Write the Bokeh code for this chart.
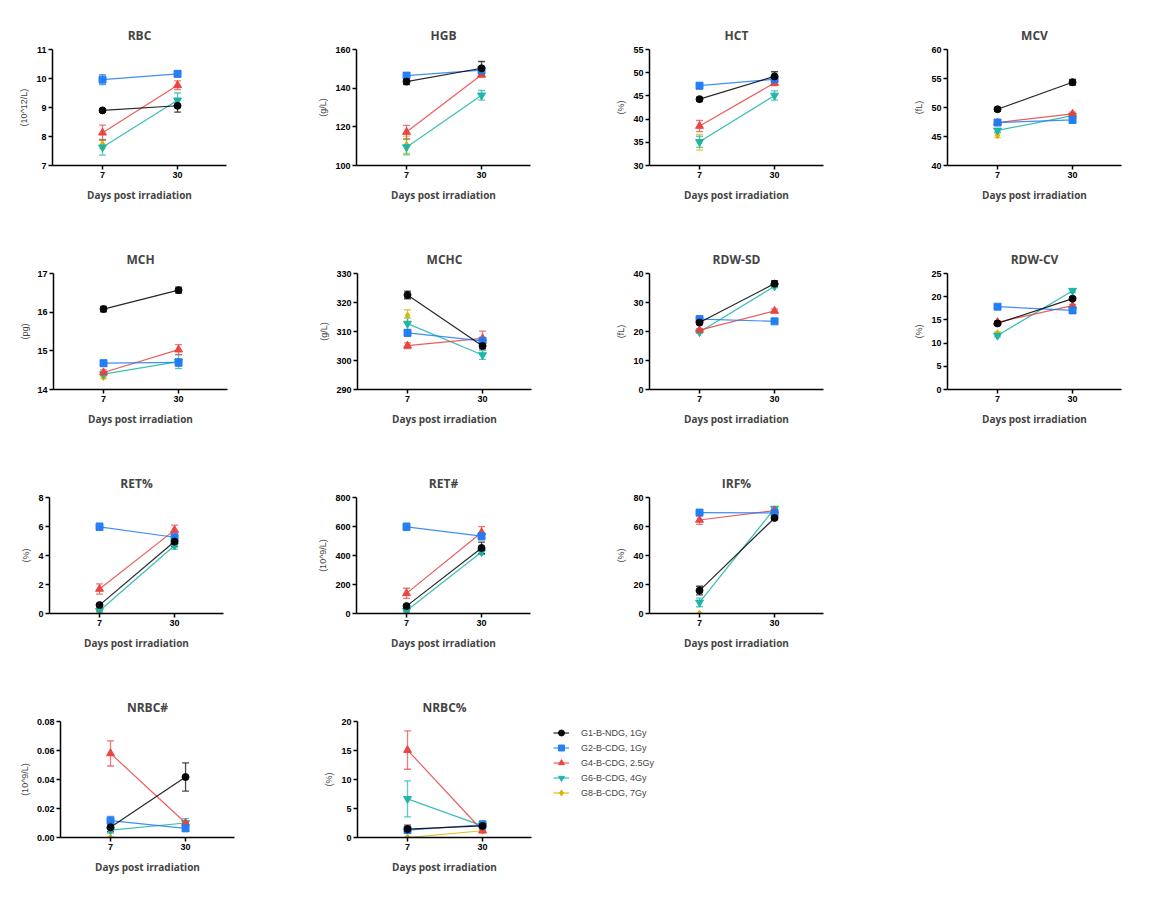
import math
from bokeh.plotting import figure
from bokeh.models import (Range1d, FixedTicker, Whisker, TeeHead, ColumnDataSource,
                          Legend, LegendItem, NumeralTickFormatter)
from bokeh.layouts import row, column
from bokeh.embed import file_html
from bokeh.resources import INLINE

NAN = float("nan")

DAYS = [7, 30]
GROUPS = ["G1-B-NDG, 1Gy", "G2-B-CDG, 1Gy", "G4-B-CDG, 2.5Gy", "G6-B-CDG, 4Gy", "G8-B-CDG, 7Gy"]

# Values in group order G1, G2, G4, G6, G8 (mean at day 7 / day 30, and error bar half-length)
RBC_D7 = [8.90, 9.96, 8.13, 7.63, 7.73]
RBC_D30 = [9.06, 10.16, 9.77, 9.25, NAN]
RBC_E7 = [0.05, 0.17, 0.26, 0.27, 0.15]
RBC_E30 = [0.22, 0.10, 0.15, 0.25, NAN]
RBC_TICKS = [7, 8, 9, 10, 11]

HGB_D7 = [143.4, 146.5, 117.3, 109.5, 110.7]
HGB_D30 = [150.3, 149.3, 146.9, 136.3, NAN]
HGB_E7 = [1.5, 1.5, 3.5, 4.0, 4.5]
HGB_E30 = [3.5, 1.5, 1.0, 2.5, NAN]
HGB_TICKS = [100, 120, 140, 160]

HCT_D7 = [44.3, 47.2, 38.5, 35.1, 35.0]
HCT_D30 = [49.2, 48.6, 47.8, 45.1, NAN]
HCT_E7 = [0.4, 0.6, 1.2, 1.2, 1.7]
HCT_E30 = [1.0, 0.5, 0.6, 1.0, NAN]
HCT_TICKS = [30, 35, 40, 45, 50, 55]

MCV_D7 = [49.7, 47.4, 47.4, 46.05, 45.2]
MCV_D30 = [54.35, 47.85, 48.9, 48.6, NAN]
MCV_E7 = [0.3, 0.4, 0.3, 0.3, 0.4]
MCV_E30 = [0.5, 0.4, 0.3, 0.3, NAN]
MCV_TICKS = [40, 45, 50, 55, 60]

MCH_D7 = [16.08, 14.68, 14.44, 14.40, 14.32]
MCH_D30 = [16.57, 14.70, 15.03, 14.72, NAN]
MCH_E7 = [0.07, 0.08, 0.07, 0.05, 0.04]
MCH_E30 = [0.08, 0.10, 0.13, 0.18, NAN]
MCH_TICKS = [14, 15, 16, 17]

MCHC_D7 = [322.6, 309.5, 305.1, 312.7, 315.5]
MCHC_D30 = [305.0, 306.8, 307.6, 301.9, NAN]
MCHC_E7 = [1.3, 1.0, 1.0, 2.0, 2.0]
MCHC_E30 = [1.0, 1.0, 2.5, 1.5, NAN]
MCHC_TICKS = [290, 300, 310, 320, 330]

RDWSD_D7 = [23.1, 24.3, 20.5, 19.8, 20.2]
RDWSD_D30 = [36.5, 23.5, 27.1, 35.6, NAN]
RDWSD_E7 = [0.7, 0.5, 0.5, 0.4, 0.4]
RDWSD_E30 = [1.0, 0.4, 0.6, 0.5, NAN]
RDWSD_TICKS = [0, 10, 20, 30, 40]

RDWCV_D7 = [14.24, 17.85, 14.5, 11.63, 12.14]
RDWCV_D30 = [19.58, 17.05, 18.06, 21.3, NAN]
RDWCV_E7 = [0.4, 0.3, 0.3, 0.3, 0.3]
RDWCV_E30 = [0.3, 0.5, 0.3, 0.4, NAN]
RDWCV_TICKS = [0, 5, 10, 15, 20, 25]

RETP_D7 = [0.58, 5.98, 1.69, 0.19, 0.12]
RETP_D30 = [4.96, 5.26, 5.75, 4.69, NAN]
RETP_E7 = [0.05, 0.25, 0.35, 0.05, 0.03]
RETP_E30 = [0.35, 0.20, 0.35, 0.25, NAN]
RETP_TICKS = [0, 2, 4, 6, 8]

RETN_D7 = [51, 598, 139, 19, 9]
RETN_D30 = [452, 533, 559, 424, NAN]
RETN_E7 = [10, 25, 35, 5, 3]
RETN_E30 = [40, 25, 40, 15, NAN]
RETN_TICKS = [0, 200, 400, 600, 800]

IRF_D7 = [15.8, 69.6, 64.5, 7.65, 0.0]
IRF_D30 = [65.9, 69.3, 71.0, 72.4, NAN]
IRF_E7 = [3.0, 1.0, 3.0, 3.0, 0.0]
IRF_E30 = [1.0, 1.5, 1.0, 1.0, NAN]
IRF_TICKS = [0, 20, 40, 60, 80]

NRBCN_D7 = [0.0070, 0.0116, 0.0580, 0.0051, 0.0]
NRBCN_D30 = [0.0417, 0.0063, 0.0100, 0.0100, NAN]
NRBCN_E7 = [0.003, 0.003, 0.0087, 0.002, 0.0]
NRBCN_E30 = [0.0097, 0.002, 0.001, 0.003, NAN]
NRBCN_TICKS = [0.0, 0.02, 0.04, 0.06, 0.08]

NRBCP_D7 = [1.45, 1.28, 15.07, 6.67, 0.0]
NRBCP_D30 = [2.0, 2.2, 1.16, 2.0, 1.16]
NRBCP_E7 = [0.7, 0.3, 3.3, 3.1, 0.0]
NRBCP_E30 = [0.3, 0.7, 0.2, 0.3, 0.1]
NRBCP_TICKS = [0, 5, 10, 15, 20]

COLORS = ["#000000", "#1F7BF2", "#E8413F", "#1AB3A6", "#D9B300"]
MARKERS = ["circle", "square", "triangle", "inverted_triangle", "diamond"]
MSIZES = [7, 7, 8, 8, 7]

TICK_FONT = "Liberation Sans"
TEXT_FONT = "Open Sans"


def make_panel(title, unit, d7, d30, e7, e30, ticks, L, R, top=41, bottom=67, fmt=None, legend=False):
    p = figure(frame_width=174, frame_height=116,
               min_border_left=L, min_border_right=R, min_border_top=top, min_border_bottom=bottom,
               x_range=Range1d(-8.33, 45.0), y_range=Range1d(ticks[0], ticks[-1]),
               output_backend="svg", toolbar_location=None, title=title)
    p.title.align = "center"
    p.title.text_font = TEXT_FONT
    p.title.text_font_size = "12px"
    p.title.text_font_style = "bold"
    p.title.standoff = 12
    p.outline_line_color = None
    p.xgrid.visible = False
    p.ygrid.visible = False
    p.background_fill_color = "white"

    for ax in (p.xaxis[0], p.yaxis[0]):
        ax.axis_line_width = 1.5
        ax.axis_line_color = "black"
        ax.major_tick_line_width = 1.5
        ax.major_tick_out = 4
        ax.major_tick_in = 0
        ax.minor_tick_out = 0
        ax.minor_tick_in = 0
        ax.major_label_text_font = TICK_FONT
        ax.major_label_text_font_style = "bold"
        ax.major_label_text_font_size = "9px"
        ax.major_label_text_color = "black"
        ax.major_label_standoff = 2
    p.xaxis.ticker = FixedTicker(ticks=DAYS)
    p.xaxis.axis_label = "Days post irradiation"
    p.xaxis.axis_label_text_font = TEXT_FONT
    p.xaxis.axis_label_text_font_style = "bold"
    p.xaxis.axis_label_text_font_size = "10px"
    p.xaxis.axis_label_standoff = 7
    p.yaxis.ticker = FixedTicker(ticks=ticks)
    p.yaxis.axis_label = unit
    p.yaxis.axis_label_text_font = TICK_FONT
    p.yaxis.axis_label_text_font_style = "normal"
    p.yaxis.axis_label_text_font_size = "9px"
    p.yaxis.axis_label_standoff = 4
    if fmt:
        p.yaxis.formatter = NumeralTickFormatter(format=fmt)

    items = []
    for gi in [4, 3, 2, 1, 0]:
        xs, ys, up, lo = [], [], [], []
        for x, m, e in ((DAYS[0], d7[gi], e7[gi]), (DAYS[1], d30[gi], e30[gi])):
            if not math.isnan(m):
                xs.append(x)
                ys.append(m)
                up.append(m + e)
                lo.append(m - e)
        src = ColumnDataSource(dict(x=xs, y=ys, upper=up, lower=lo))
        c = COLORS[gi]
        w = Whisker(base="x", upper="upper", lower="lower", source=src,
                    line_color=c, line_alpha=0.7, line_width=1.3,
                    upper_head=TeeHead(size=7, line_color=c, line_alpha=0.7, line_width=1.3),
                    lower_head=TeeHead(size=7, line_color=c, line_alpha=0.7, line_width=1.3))
        p.add_layout(w)
        ln = p.line("x", "y", source=src, line_color=c, line_width=1.2, line_alpha=0.85)
        sc = p.scatter("x", "y", source=src, marker=MARKERS[gi], size=MSIZES[gi],
                       fill_color=c, line_color=c, line_alpha=0.9, fill_alpha=0.95)
        items.append((gi, ln, sc))

    if legend:
        items.sort(key=lambda t: t[0])
        lg = Legend(items=[LegendItem(label=GROUPS[gi], renderers=[ln, sc]) for gi, ln, sc in items])
        lg.location = (22, 37)
        lg.margin = 0
        lg.padding = 2
        lg.spacing = 0
        lg.glyph_height = 15
        lg.glyph_width = 16
        lg.label_height = 15
        lg.label_standoff = 12
        lg.label_text_font = TICK_FONT
        lg.label_text_font_size = "9px"
        lg.border_line_color = None
        lg.background_fill_alpha = 0
        p.add_layout(lg, "right")
    return p


r1 = row(
    make_panel("RBC", "(10^12/L)", RBC_D7, RBC_D30, RBC_E7, RBC_E30, RBC_TICKS, 52, 74, top=49),
    make_panel("HGB", "(g/L)", HGB_D7, HGB_D30, HGB_E7, HGB_E30, HGB_TICKS, 56, 65, top=49),
    make_panel("HCT", "(%)", HCT_D7, HCT_D30, HCT_E7, HCT_E30, HCT_TICKS, 54, 72, top=49),
    make_panel("MCV", "(fL)", MCV_D7, MCV_D30, MCV_E7, MCV_E30, MCV_TICKS, 52, 20, top=49),
)
r2 = row(
    make_panel("MCH", "(pg)", MCH_D7, MCH_D30, MCH_E7, MCH_E30, MCH_TICKS, 53, 73),
    make_panel("MCHC", "(g/L)", MCHC_D7, MCHC_D30, MCHC_E7, MCHC_E30, MCHC_TICKS, 57, 64),
    make_panel("RDW-SD", "(fL)", RDWSD_D7, RDWSD_D30, RDWSD_E7, RDWSD_E30, RDWSD_TICKS, 54, 72),
    make_panel("RDW-CV", "(%)", RDWCV_D7, RDWCV_D30, RDWCV_E7, RDWCV_E30, RDWCV_TICKS, 52, 20),
)
r3 = row(
    make_panel("RET%", "(%)", RETP_D7, RETP_D30, RETP_E7, RETP_E30, RETP_TICKS, 49, 77),
    make_panel("RET#", "(10^9/L)", RETN_D7, RETN_D30, RETN_E7, RETN_E30, RETN_TICKS, 56, 65),
    make_panel("IRF%", "(%)", IRF_D7, IRF_D30, IRF_E7, IRF_E30, IRF_TICKS, 54, 72),
)
r4 = row(
    make_panel("NRBC#", "(10^9/L)", NRBCN_D7, NRBCN_D30, NRBCN_E7, NRBCN_E30, NRBCN_TICKS, 60, 66,
               bottom=45, fmt="0.00"),
    make_panel("NRBC%", "(%)", NRBCP_D7, NRBCP_D30, NRBCP_E7, NRBCP_E30, NRBCP_TICKS, 57, 140,
               bottom=45, legend=True),
)
layout = column(r1, r2, r3, r4)

open("out.html", "w").write(file_html(layout, INLINE))
